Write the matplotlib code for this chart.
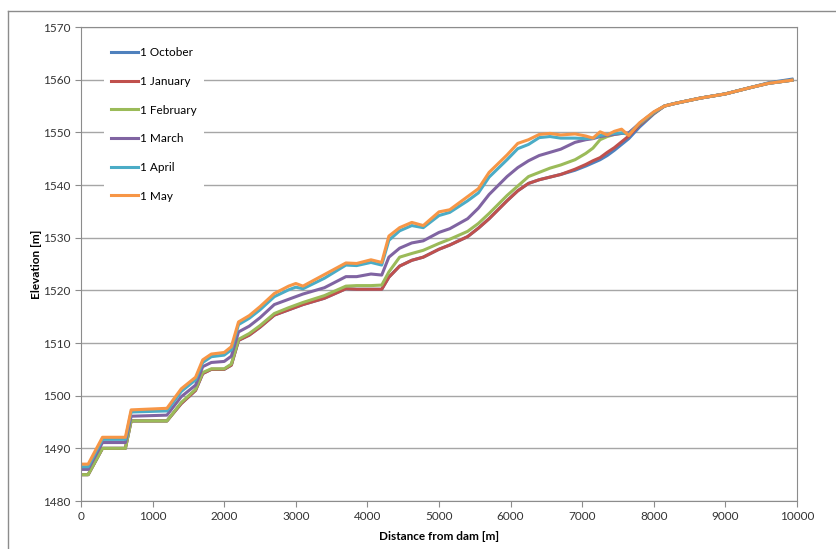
import matplotlib.pyplot as plt
from matplotlib.lines import Line2D

plt.rcParams['font.family'] = ['Lato', 'DejaVu Sans']

# distance from dam [m]
dist = [0, 100, 300, 620, 700, 1200, 1400, 1600, 1700, 1820, 2000, 2100, 2200, 2350,
        2500, 2700, 2900, 3000, 3100, 3400, 3700, 3850, 4050, 4200, 4300, 4450, 4620,
        4780, 5000, 5150, 5400, 5550, 5700, 5950, 6100, 6250, 6400, 6550, 6700, 6900,
        7050, 7150, 7250, 7350, 7450, 7550, 7650, 7800, 8000, 8150, 8300, 8650, 9000,
        9350, 9600, 9930]

# elevations [m]
oct1 = [1485, 1485, 1490, 1490, 1495.2, 1495.2, 1498.5, 1501, 1504.2, 1505, 1505, 1505.8,
        1510.5, 1511.5, 1513, 1515.3, 1516.3, 1516.8, 1517.3, 1518.5, 1520.3, 1520.2,
        1520.2, 1520.2, 1522.5, 1524.6, 1525.7, 1526.3, 1527.8, 1528.6, 1530.2, 1531.8,
        1533.6, 1537, 1538.9, 1540.3, 1541, 1541.5, 1542, 1542.8, 1543.6, 1544.2, 1544.8,
        1545.6, 1546.6, 1547.7, 1548.8, 1551.0, 1553.5, 1555.0, 1555.5, 1556.5, 1557.3,
        1558.5, 1559.4, 1560.1]
jan1 = [1485, 1485, 1490, 1490, 1495.2, 1495.2, 1498.5, 1501, 1504.2, 1505, 1505, 1505.8,
        1510.5, 1511.5, 1513, 1515.3, 1516.3, 1516.8, 1517.3, 1518.5, 1520.3, 1520.2,
        1520.2, 1520.2, 1522.5, 1524.6, 1525.7, 1526.3, 1527.8, 1528.6, 1530.2, 1531.8,
        1533.6, 1537, 1538.9, 1540.3, 1541, 1541.5, 1542, 1543, 1543.9, 1544.6, 1545.2,
        1546.2, 1547.1, 1548.2, 1549.3, 1551.4, 1553.6, 1555.0, 1555.5, 1556.5, 1557.3,
        1558.5, 1559.3, 1559.9]
feb1 = [1485, 1485, 1490, 1490, 1495.2, 1495.2, 1498.7, 1501.2, 1504.4, 1505.1, 1505.1,
        1506, 1510.7, 1511.8, 1513.3, 1515.6, 1516.7, 1517.2, 1517.7, 1519, 1520.8,
        1520.9, 1520.9, 1521, 1523.5, 1526.3, 1527, 1527.6, 1528.9, 1529.7, 1531.2,
        1532.7, 1534.6, 1538, 1539.8, 1541.6, 1542.4, 1543.2, 1543.8, 1544.8, 1546,
        1547, 1548.6, 1549.2, 1549.6, 1549.8, 1549.8, 1551.6, 1553.7, 1555.0, 1555.5,
        1556.5, 1557.3, 1558.5, 1559.3, 1559.9]
mar1 = [1486, 1486, 1491.1, 1491.1, 1496.1, 1496.3, 1499.8, 1502, 1505.5, 1506.3, 1506.5,
        1507.5, 1512.1, 1513.2, 1514.8, 1517.3, 1518.3, 1518.8, 1519.3, 1520.5, 1522.6,
        1522.6, 1523.1, 1522.9, 1526.3, 1528.0, 1529, 1529.4, 1531.0, 1531.7, 1533.6,
        1535.6, 1538.2, 1541.6, 1543.3, 1544.6, 1545.6, 1546.2, 1546.8, 1548.1, 1548.6,
        1548.8, 1549.2, 1549.4, 1549.6, 1549.8, 1549.9, 1551.7, 1553.8, 1555.0, 1555.5,
        1556.5, 1557.3, 1558.5, 1559.3, 1559.9]
apr1 = [1486.5, 1486.5, 1491.7, 1491.7, 1496.9, 1497.1, 1500.8, 1503, 1506.3, 1507.4,
        1507.7, 1508.7, 1513.5, 1514.7, 1516.3, 1518.8, 1520.1, 1520.6, 1520.3, 1522.3,
        1524.8, 1524.7, 1525.3, 1524.8, 1529.5, 1531.3, 1532.3, 1531.9, 1534.2, 1534.8,
        1537, 1538.5, 1541.5, 1544.8, 1546.9, 1547.7, 1549.0, 1549.2, 1548.9, 1548.9,
        1548.8, 1548.9, 1549.4, 1549.6, 1549.8, 1549.9, 1549.6, 1551.7, 1553.8, 1555.0,
        1555.5, 1556.5, 1557.3, 1558.5, 1559.3, 1559.9]
may1 = [1487, 1487, 1492.1, 1492.1, 1497.3, 1497.6, 1501.3, 1503.5, 1506.8, 1507.9,
        1508.2, 1509.3, 1514, 1515.2, 1516.9, 1519.4, 1520.8, 1521.3, 1520.8, 1523,
        1525.2, 1525.1, 1525.8, 1525.3, 1530.3, 1531.9, 1532.9, 1532.3, 1534.9, 1535.3,
        1537.8, 1539.3, 1542.4, 1545.7, 1547.9, 1548.6, 1549.6, 1549.8, 1549.5, 1549.7,
        1549.3, 1548.9, 1550.1, 1549.5, 1550.2, 1550.6, 1549.4, 1551.8, 1553.9, 1555.0,
        1555.5, 1556.5, 1557.3, 1558.5, 1559.3, 1559.9]

labels = ['1 October', '1 January', '1 February', '1 March', '1 April', '1 May']
series = [oct1, jan1, feb1, mar1, apr1, may1]
colors = ['#4F81BD', '#C0504D', '#9BBB59', '#8064A2', '#4BACC6', '#F79646']

fig = plt.figure(figsize=(8.36, 5.49), dpi=100)
ax = fig.add_axes([81 / 836, 1 - 501 / 549, 716 / 836, 474 / 549])

for y, lab, c in zip(series, labels, colors):
    ax.plot(dist, y, color=c, lw=2.2, label=lab, solid_joinstyle='round')

ax.set_xlim(0, 10000)
ax.set_ylim(1480, 1570)
ax.set_xticks(range(0, 10001, 1000))
ax.set_yticks(range(1480, 1571, 10))
ax.yaxis.grid(True, color='#A6A6A6', lw=1.0)
ax.set_axisbelow(True)
for s in ax.spines.values():
    s.set_color('#8C8C8C')
ax.tick_params(axis='both', direction='out', length=4, color='#8C8C8C',
               labelsize=8.5, labelcolor='#333333')
ax.set_xlabel('Distance from dam [m]', fontsize=8.5, fontweight='bold', labelpad=6)
ax.set_ylabel('Elevation [m]', fontsize=8.5, fontweight='bold', labelpad=1)

leg = ax.legend(loc='upper left', bbox_to_anchor=(104 / 836, 1 - 40 / 549),
                bbox_transform=fig.transFigure, borderaxespad=0, frameon=True,
                fancybox=False, edgecolor='none', facecolor='white', framealpha=1,
                fontsize=8.5, handlelength=2.3, handletextpad=0.15, labelspacing=1.5,
                borderpad=0.6)
leg.set_zorder(5)

# outer chart-area border
fig.add_artist(Line2D([8 / 836, 1], [1 - 11 / 549] * 2, transform=fig.transFigure,
                      color='#8C8C8C', lw=1))
fig.add_artist(Line2D([8 / 836] * 2, [0, 1 - 11 / 549], transform=fig.transFigure,
                      color='#8C8C8C', lw=1))

fig.savefig('out.png', dpi=100)
